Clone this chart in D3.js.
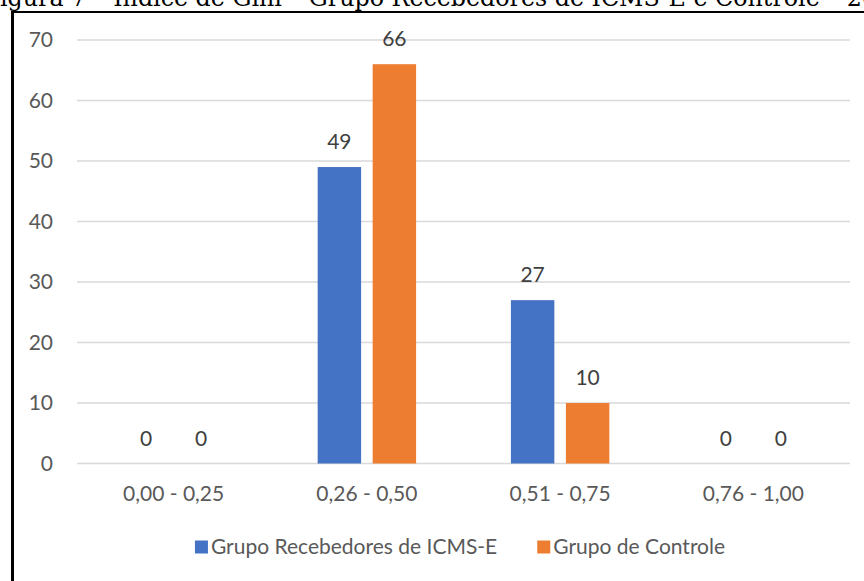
<!DOCTYPE html>
<html>
<head>
<meta charset="utf-8">
<script src="https://cdn.jsdelivr.net/npm/d3@7"></script>
<style>
    body { margin: 0; background: #fff; }
    svg { display: block; }
</style>
</head>
<body>
<div id="chart"></div>
<script>
// chart data
var categories = ["0,00 - 0,25", "0,26 - 0,50", "0,51 - 0,75", "0,76 - 1,00"];
var seriesNames = ["Grupo Recebedores de ICMS-E", "Grupo de Controle"];
var recebedores = [0, 49, 27, 0];
var controle = [0, 66, 10, 0];
var yTicks = [0, 10, 20, 30, 40, 50, 60, 70];
var colors = ["#4472C4", "#ED7D31"];

var titleText = "Figura 7 – Índice de Gini – Grupo Recebedores de ICMS-E e Controle – 2019";

var svgWidth = 864;
var svgHeight = 581;

// plot area
var plot = { left: 77, right: 850, top: 40, bottom: 463.5 };

var font = "Lato, 'Open Sans', sans-serif";
var fontSize = 21;

var svg = d3.select("#chart").append("svg")
    .attr("width", svgWidth)
    .attr("height", svgHeight);

// title, cropped at the top of the picture
var title = svg.append("text")
    .attr("y", 6)
    .attr("font-family", "'DejaVu Serif', 'Liberation Serif', serif")
    .attr("font-size", 20)
    .attr("fill", "#000")
    .text(titleText);

// fit "igura ... – 2" across the width, "F" hidden off the left edge
var probe = svg.append("text")
    .attr("font-family", "'DejaVu Serif', 'Liberation Serif', serif")
    .attr("font-size", 20);
var wF = probe.text("F").node().getComputedTextLength();
var wVisible = probe.text("Figura 7 – Índice de Gini – Grupo Recebedores de ICMS-E e Controle – 2").node().getComputedTextLength() - wF;
var titleSize = 20 * 862 / wVisible;
probe.attr("font-size", titleSize);
wF = probe.text("F").node().getComputedTextLength();
probe.remove();
title.attr("font-size", titleSize).attr("x", -wF);

// frame lines (left and top)
svg.append("rect")
    .attr("x", 11).attr("y", 11)
    .attr("width", 3).attr("height", svgHeight - 11)
    .attr("fill", "#000");
svg.append("rect")
    .attr("x", 11).attr("y", 11)
    .attr("width", svgWidth - 11).attr("height", 2)
    .attr("fill", "#000");

// scales
var yScale = d3.scaleLinear()
    .domain([0, 70])
    .range([plot.bottom, plot.top]);

var x0 = d3.scaleBand()
    .domain(categories)
    .range([plot.left, plot.right]);

var x1 = d3.scaleBand()
    .domain(seriesNames)
    .range([0, x0.bandwidth()])
    .paddingInner(0.21)
    .paddingOuter(0.862);

// gridlines
svg.append("g")
    .selectAll("line")
    .data(yTicks)
    .enter()
    .append("line")
    .attr("x1", plot.left)
    .attr("x2", plot.right)
    .attr("y1", d => yScale(d))
    .attr("y2", d => yScale(d))
    .attr("stroke", "#D9D9D9")
    .attr("stroke-width", 1.5);

// y axis labels
var yAxis = d3.axisLeft(yScale)
    .tickValues(yTicks)
    .tickSize(0)
    .tickPadding(0);

var yAxisG = svg.append("g")
    .attr("transform", `translate(53, 0)`)
    .call(yAxis);
yAxisG.select(".domain").remove();
yAxisG.selectAll("text")
    .attr("font-family", font)
    .attr("font-size", fontSize)
    .attr("fill", "#595959");

// x axis labels
var xAxis = d3.axisBottom(x0)
    .tickSize(0)
    .tickPadding(0);

var xAxisG = svg.append("g")
    .attr("transform", `translate(0, 486)`)
    .call(xAxis);
xAxisG.select(".domain").remove();
xAxisG.selectAll("text")
    .attr("font-family", font)
    .attr("font-size", fontSize)
    .attr("fill", "#595959");

// table of bars
var rows = [];
categories.forEach((c, i) => {
    rows.push({ cat: c, series: seriesNames[0], value: recebedores[i], color: colors[0] });
    rows.push({ cat: c, series: seriesNames[1], value: controle[i], color: colors[1] });
});

// bars
svg.append("g")
    .selectAll("rect")
    .data(rows)
    .enter()
    .append("rect")
    .attr("x", d => x0(d.cat) + x1(d.series))
    .attr("y", d => yScale(d.value))
    .attr("width", x1.bandwidth())
    .attr("height", d => yScale(0) - yScale(d.value))
    .attr("fill", d => d.color);

// value labels
svg.append("g")
    .selectAll("text")
    .data(rows)
    .enter()
    .append("text")
    .attr("x", d => x0(d.cat) + x1(d.series) + x1.bandwidth() / 2)
    .attr("y", d => yScale(d.value) - 18)
    .attr("text-anchor", "middle")
    .attr("font-family", font)
    .attr("font-size", fontSize)
    .attr("fill", "#404040")
    .text(d => d.value);

// legend
var legend = svg.append("g");
var legendCenter = 460;
var sq = 13;
var itemGap = 40;

var items = legend.selectAll("g")
    .data(seriesNames)
    .enter()
    .append("g");

items.append("rect")
    .attr("width", sq)
    .attr("height", sq)
    .attr("y", 547 - sq / 2)
    .attr("fill", (d, i) => colors[i]);

items.append("text")
    .attr("x", sq + 3)
    .attr("y", 554)
    .attr("font-family", font)
    .attr("font-size", fontSize)
    .attr("fill", "#595959")
    .text(d => d);

var widths = [];
items.each(function() {
    widths.push(sq + 3 + d3.select(this).select("text").node().getComputedTextLength());
});
var total = widths[0] + itemGap + widths[1];
var startX = legendCenter - total / 2;
items.attr("transform", (d, i) => `translate(${i === 0 ? startX : startX + widths[0] + itemGap}, 0)`);
</script>
</body>
</html>
